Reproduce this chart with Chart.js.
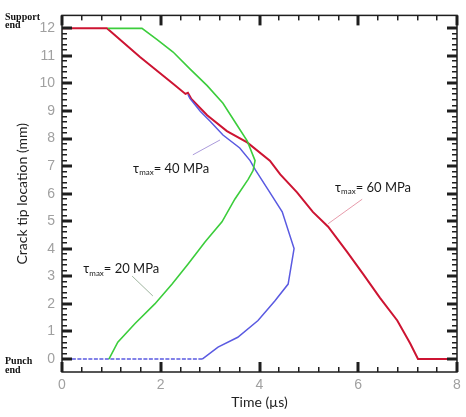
<!DOCTYPE html>
<html>
<head>
<meta charset="utf-8">
<script src="https://cdn.jsdelivr.net/npm/chart.js@4.4.1/dist/chart.umd.min.js"></script>
<style>
  html, body { margin: 0; padding: 0; background: #fff; }
  #wrap { width: 466px; height: 417px; }
</style>
</head>
<body>
<div id="wrap"><canvas id="myChart"></canvas></div>
<script>
var xTicks = [0, 2, 4, 6, 8];
var yTicks = [0, 1, 2, 3, 4, 5, 6, 7, 8, 9, 10, 11, 12];

// tau_max = 60 MPa
var redTime = [0, 0.91, 1.58, 2.25, 2.5, 2.55, 2.62, 2.94, 3.34, 3.75, 4.21, 4.42, 4.76, 5.08, 5.39, 5.77, 6.1, 6.44, 6.79, 7.05, 7.21, 8];
var redLoc = [12, 12, 10.96, 9.99, 9.62, 9.66, 9.44, 8.85, 8.27, 7.86, 7.2, 6.7, 6.05, 5.34, 4.8, 3.9, 3.08, 2.22, 1.4, 0.57, 0, 0];

// tau_max = 20 MPa
var greenTime = [0.93, 1.62, 1.92, 2.25, 2.59, 2.94, 3.26, 3.54, 3.75, 3.91, 3.87, 3.77, 3.5, 3.24, 2.9, 2.55, 2.23, 1.88, 1.48, 1.13, 0.95];
var greenLoc = [12, 12, 11.6, 11.14, 10.53, 9.92, 9.28, 8.5, 7.92, 7.2, 6.84, 6.52, 5.8, 4.98, 4.26, 3.44, 2.72, 2.0, 1.29, 0.61, 0];

// tau_max = 40 MPa
var blueTime = [0.2, 2.84, 3.16, 3.56, 3.97, 4.31, 4.58, 4.7, 4.46, 4.17, 3.91, 3.81, 3.6, 3.26, 3.0, 2.8, 2.59, 2.55];
var blueLoc = [0, 0, 0.43, 0.79, 1.4, 2.11, 2.72, 4.01, 5.34, 6.16, 6.88, 7.2, 7.66, 8.13, 8.63, 8.99, 9.46, 9.6];

var seriesNames = ["60", "20", "40"];

function pts(t, y) {
  return t.map(function (v, i) { return { x: v, y: y[i] }; });
}

// label text position, leader line start/end (data units)
var notes = [
  { txt: "20", at: [0.43, 3.26], from: [1.42, 3.01], to: [1.84, 2.29], lead: "rgba(120,150,120,0.7)" },
  { txt: "40", at: [1.44, 6.91], from: [2.65, 7.41], to: [3.2, 7.95], lead: "rgba(150,130,210,0.8)" },
  { txt: "60", at: [5.53, 6.23], from: [6.08, 5.8], to: [5.39, 4.91], lead: "rgba(225,130,150,0.8)" }
];

// inward tick marks on all four sides, placed by the library's scales
function drawTicks(ctx, a, xs, ys) {
  var i, p;
  for (i = 0; i <= 20; i++) {
    p = Math.round(xs.getPixelForValue(i * 0.4));
    ctx.fillRect(p - 1, a.bottom - 5, 1.5, 5);
    ctx.fillRect(p - 1, a.top, 1.5, 5);
  }
  for (i = 0; i <= 60; i++) {
    p = Math.round(ys.getPixelForValue(i * 0.2));
    ctx.fillRect(a.left, p - 1, 5, 1.5);
    ctx.fillRect(a.right - 5, p - 1, 5, 1.5);
  }
  xTicks.forEach(function (v) {
    var q = Math.round(xs.getPixelForValue(v));
    ctx.fillRect(q - 1.5, a.bottom - 10, 3, 10);
    ctx.fillRect(q - 1.5, a.top, 3, 10);
  });
  yTicks.forEach(function (v) {
    var q = Math.round(ys.getPixelForValue(v));
    ctx.fillRect(a.left, q - 1.5, 10, 3);
    ctx.fillRect(a.right - 10, q - 1.5, 10, 3);
  });
}

var frame = {
  id: "frame",
  afterDatasetsDraw: function (chart) {
    var ctx = chart.ctx, a = chart.chartArea;
    var xs = chart.scales.x, ys = chart.scales.y;
    ctx.save();
    ctx.setLineDash([]);
    ctx.globalAlpha = 1;
    ctx.globalCompositeOperation = "source-over";
    ctx.fillStyle = "rgb(30,30,30)";
    drawTicks(ctx, a, xs, ys);
    ctx.strokeStyle = "rgb(30,30,30)";
    ctx.lineWidth = 1.5;
    ctx.strokeRect(a.left, a.top, a.right - a.left, a.bottom - a.top);

    // end labels
    ctx.fillStyle = "#111";
    ctx.font = "bold 10px 'Liberation Serif'";
    ctx.textAlign = "left";
    ctx.textBaseline = "middle";
    var top = ys.getPixelForValue(12), bot = ys.getPixelForValue(0);
    ctx.fillText("Support", 5, top - 11);
    ctx.fillText("end", 5, top - 3);
    ctx.fillText("Punch", 5, bot + 2);
    ctx.fillText("end", 5, bot + 11);

    // tau labels
    notes.forEach(function (n) {
      ctx.strokeStyle = n.lead;
      ctx.lineWidth = 1;
      ctx.beginPath();
      ctx.moveTo(xs.getPixelForValue(n.from[0]), ys.getPixelForValue(n.from[1]));
      ctx.lineTo(xs.getPixelForValue(n.to[0]), ys.getPixelForValue(n.to[1]));
      ctx.stroke();
      var x = xs.getPixelForValue(n.at[0]), y = ys.getPixelForValue(n.at[1]);
      ctx.fillStyle = "#1a1a1a";
      ctx.font = "13px Lato";
      ctx.fillText("\u03c4", x, y);
      x += ctx.measureText("\u03c4").width;
      ctx.font = "8px Lato";
      ctx.fillText("max", x, y + 4);
      x += ctx.measureText("max").width;
      ctx.font = "13px Lato";
      ctx.fillText("= " + n.txt + " MPa", x, y);
    });
    ctx.restore();
  }
};

var data = {
  datasets: [
    {
      label: seriesNames[1],
      data: pts(greenTime, greenLoc),
      borderColor: "rgb(60,205,60)",
      borderWidth: 1.6
    },
    {
      label: seriesNames[2],
      data: pts(blueTime, blueLoc),
      borderColor: "rgb(90,90,225)",
      borderWidth: 1.5,
      segment: {
        borderDash: function (c) { return c.p0.parsed.y === 0 && c.p1.parsed.y === 0 ? [4, 1.5] : undefined; }
      }
    },
    {
      label: seriesNames[0],
      data: pts(redTime, redLoc),
      borderColor: "rgb(205,20,50)",
      borderWidth: 2
    }
  ]
};

var config = {
  type: "scatter",
  data: data,
  options: {
    responsive: true,
    maintainAspectRatio: false,
    animation: false,
    showLine: true,
    elements: { point: { radius: 0 }, line: { tension: 0 } },
    layout: { padding: { left: 0, right: 9, top: 11, bottom: 0 } },
    plugins: { legend: { display: false }, tooltip: { enabled: false } },
    scales: {
      x: {
        type: "linear",
        min: 0,
        max: 8,
        afterBuildTicks: function (s) { s.ticks = xTicks.map(function (v) { return { value: v }; }); },
        afterFit: function (s) { s.height = 45; },
        grid: { display: false, drawTicks: false },
        border: { display: false },
        ticks: { padding: 5, color: "#a0a0a0", font: { family: "'Liberation Sans'", size: 14 } },
        title: { display: true, text: "Time (\u00b5s)", color: "#222", font: { family: "Lato", size: 14 }, padding: { top: 0, bottom: 6 } }
      },
      y: {
        type: "linear",
        min: -0.47,
        max: 12.47,
        afterBuildTicks: function (s) { s.ticks = yTicks.map(function (v) { return { value: v }; }); },
        afterFit: function (s) { s.width = 62; },
        grid: { display: false, drawTicks: false },
        border: { display: false },
        ticks: { padding: 7, color: "#a0a0a0", font: { family: "'Liberation Sans'", size: 14 } },
        title: { display: true, text: "Crack tip location (mm)", color: "#222", font: { family: "Lato", size: 14 }, padding: { top: 14, bottom: 0 } }
      }
    }
  },
  plugins: [frame]
};

var myChart = new Chart(document.getElementById("myChart"), config);
</script>
</body>
</html>
